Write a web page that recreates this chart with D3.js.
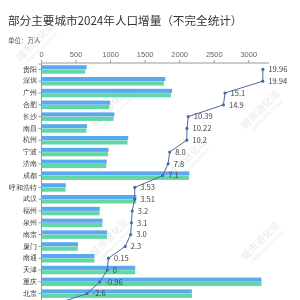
<!DOCTYPE html>
<html>
<head>
<meta charset="utf-8">
<script src="https://d3js.org/d3.v7.min.js"></script>
<style>
    body { margin: 0; background: #fff; }
    svg { font-family: "Noto Sans CJK SC", "Noto Sans", sans-serif; }
    .axis text { fill: #666; }
    .axis path, .axis line { stroke: #999; }
</style>
</head>
<body>
<script>
    // cities, top to bottom (上海 sits just below the visible area)
    var cities = ["贵阳", "深圳", "广州", "合肥", "长沙", "南昌", "杭州", "宁波", "济南", "成都",
        "呼和浩特", "武汉", "福州", "泉州", "南京", "厦门", "南通", "天津", "重庆", "北京", "上海"];
    // 2024 population (blue), 万人
    var pop2024 = [660.25, 1798.95, 1897.8, 1000.2, 1061.62, 667.04, 1262.4, 977.7, 951.5, 2147.4,
        358.64, 1380.91, 850.5, 891.1, 957.7, 535.0, 773.45, 1364.0, 3190.47, 2183.2, 2480.26];
    // 2023 population (green)
    var pop2023 = [640.29, 1779.01, 1882.7, 985.3, 1051.23, 656.82, 1252.2, 969.7, 943.7, 2140.3,
        355.11, 1377.4, 847.3, 888.0, 954.7, 532.7, 773.3, 1364.0, 3191.43, 2185.8, 2487.45];
    // growth and its labels
    var growth = [19.96, 19.94, 15.1, 14.9, 10.39, 10.22, 10.2, 8.0, 7.8, 7.1,
        3.53, 3.51, 3.2, 3.1, 3.0, 2.3, 0.15, 0, -0.96, -2.6, -7.19];
    var growthLabels = ["19.96", "19.94", "15.1", "14.9", "10.39", "10.22", "10.2", "8.0", "7.8", "7.1",
        "3.53", "3.51", "3.2", "3.1", "3.0", "2.3", "0.15", "0", "-0.96", "-2.6", "-7.19"];
    var xTicks = [0, 500, 1000, 1500, 2000, 2500, 3000];

    var width = 300, height = 300;
    var svg = d3.select("body").append("svg")
        .attr("width", width)
        .attr("height", height);

    // watermarks (kept inside the frame)
    var marks = [[38, 44], [112, 110], [263, 112], [190, 160], [112, 240], [263, 243]];
    var wm = svg.append("g").attr("opacity", 0.07);
    marks.forEach(function(m) {
        var g = wm.append("g").attr("transform", "translate(" + m[0] + "," + m[1] + ") rotate(-45)");
        g.append("text").attr("text-anchor", "middle").style("font-size", "10px")
            .style("font-weight", "bold").text("城市进化论");
        g.append("text").attr("text-anchor", "middle").attr("y", 7).style("font-size", "4.5px")
            .style("font-weight", "bold").text("URBAN EVOLUTION");
    });

    var x = d3.scaleLinear().domain([0, 3300]).range([41, 269]);
    var xg = d3.scaleLinear().domain([-8.5, 21]).range([41, 271]);
    var y = d3.scaleBand().domain(cities).range([63.5, 63.5 + cities.length * 11.8]);

    var rows = cities.map(function(c, i) {
        return {city: c, a: pop2024[i], b: pop2023[i], g: growth[i], label: growthLabels[i]};
    });
    // rows whose labels fall inside the picture
    function visible(c) { return y(c) + y.bandwidth() / 2 < height - 3; }

    // title
    svg.append("text")
        .attr("x", 8).attr("y", 25)
        .style("font-size", "11.6px").style("fill", "#333")
        .text("部分主要城市2024年人口增量（不完全统计）");
    svg.append("text")
        .attr("x", 8).attr("y", 43)
        .style("font-size", "6.5px").style("fill", "#555")
        .text("单位：万人");

    // bars
    svg.selectAll(".b24")
        .data(rows)
        .enter().append("rect")
        .attr("x", x(0))
        .attr("y", function(d) { return y(d.city) + 1.7; })
        .attr("width", function(d) { return x(d.a) - x(0); })
        .attr("height", 4.1)
        .attr("fill", "#5aa9ef");
    svg.selectAll(".b23")
        .data(rows)
        .enter().append("rect")
        .attr("x", x(0))
        .attr("y", function(d) { return y(d.city) + 6.1; })
        .attr("width", function(d) { return x(d.b) - x(0); })
        .attr("height", 4.1)
        .attr("fill", "#62d6a4");

    // top axis
    svg.append("g")
        .attr("class", "axis")
        .attr("transform", "translate(0,63)")
        .call(d3.axisTop(x).tickValues(xTicks).tickFormat(d3.format("d")).tickSize(3).tickPadding(3))
        .call(function(g) { g.selectAll("text").style("font-size", "7.5px"); })
        .call(function(g) { g.select(".domain").attr("d", "M41,0H269"); });

    // left axis
    svg.append("g")
        .attr("class", "axis")
        .attr("transform", "translate(41,0)")
        .call(d3.axisLeft(y).tickValues(cities.filter(visible)).tickSize(2.5).tickPadding(2))
        .call(function(g) { g.selectAll("text").style("font-size", "6.6px").style("fill", "#333"); });

    // growth line
    var line = d3.line()
        .x(function(d) { return xg(d.g); })
        .y(function(d) { return y(d.city) + y.bandwidth() / 2; });
    svg.append("path")
        .datum(rows)
        .attr("fill", "none")
        .attr("stroke", "#4b6a9e")
        .attr("stroke-width", 1)
        .attr("d", line);
    svg.selectAll(".dot")
        .data(rows)
        .enter().append("circle")
        .attr("cx", function(d) { return xg(d.g); })
        .attr("cy", function(d) { return y(d.city) + y.bandwidth() / 2; })
        .attr("r", 1.6)
        .attr("fill", "#4b6a9e");
    svg.selectAll(".glab")
        .data(rows.filter(function(d) { return visible(d.city); }))
        .enter().append("text")
        .attr("x", function(d) { return xg(d.g) + 5.5; })
        .attr("y", function(d) { return y(d.city) + y.bandwidth() / 2 + 2.8; })
        .style("font-size", "7.6px")
        .style("fill", "#444")
        .text(function(d) { return d.label; });
</script>
</body>
</html>
